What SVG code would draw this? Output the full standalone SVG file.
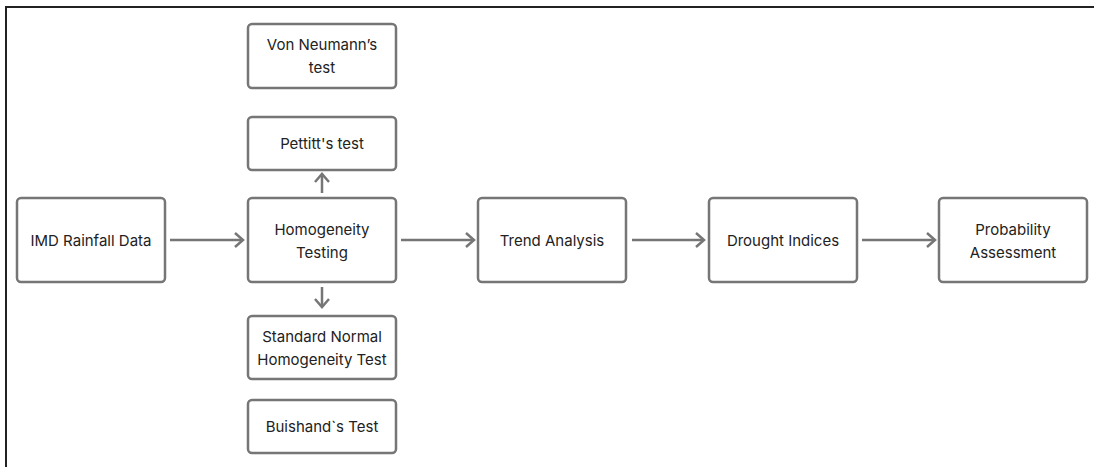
<svg xmlns="http://www.w3.org/2000/svg" width="1094" height="467" viewBox="0 0 1094 467">
<style>
.box{fill:#fff;stroke:#767676;stroke-width:2.5}
.t{font-family:Inter,"Noto Sans","Liberation Sans",sans-serif;font-size:15px;fill:#222;text-anchor:middle;dominant-baseline:central}
.c{fill:none;stroke:#767676;stroke-width:2.5}
</style>
<defs>
<marker id="ah" viewBox="0 0 12 16" refX="10" refY="8" markerWidth="12" markerHeight="16" markerUnits="userSpaceOnUse" orient="auto">
<path d="M2,1 L10,8 L2,15" fill="none" stroke="#767676" stroke-width="2.5"/>
</marker>
</defs>
<rect width="1094" height="467" fill="#fff"/>
<path d="M6,467 V7 H1094" fill="none" stroke="#222" stroke-width="2"/>
<g id="n-imd"><rect class="box" x="17" y="198" width="148" height="84" rx="4"/><text class="t" x="91" y="240">IMD Rainfall Data</text></g>
<g id="n-homog"><rect class="box" x="248" y="198" width="148" height="84" rx="4"/><text class="t" x="322" y="229">Homogeneity</text><text class="t" x="322" y="252">Testing</text></g>
<g id="n-trend"><rect class="box" x="478" y="198" width="148" height="84" rx="4"/><text class="t" x="552" y="240">Trend Analysis</text></g>
<g id="n-drought"><rect class="box" x="709" y="198" width="148" height="84" rx="4"/><text class="t" x="783" y="240">Drought Indices</text></g>
<g id="n-prob"><rect class="box" x="939" y="198" width="148" height="84" rx="4"/><text class="t" x="1013" y="229">Probability</text><text class="t" x="1013" y="252">Assessment</text></g>
<g id="n-vonneumann"><rect class="box" x="248" y="24" width="148" height="64" rx="4"/><text class="t" x="322" y="44">Von Neumann’s</text><text class="t" x="322" y="67">test</text></g>
<g id="n-pettitt"><rect class="box" x="248" y="117" width="148" height="53" rx="4"/><text class="t" x="322" y="143">Pettitt's test</text></g>
<g id="n-snht"><rect class="box" x="248" y="316" width="148" height="63" rx="4"/><text class="t" x="322" y="336">Standard Normal</text><text class="t" x="322" y="359">Homogeneity Test</text></g>
<g id="n-buishand"><rect class="box" x="248" y="400" width="148" height="53" rx="4"/><text class="t" x="322" y="426">Buishand`s Test</text></g>
<g id="connectors">
<line class="c" x1="170" y1="240" x2="243" y2="240" marker-end="url(#ah)"/>
<line class="c" x1="401" y1="240" x2="474" y2="240" marker-end="url(#ah)"/>
<line class="c" x1="632" y1="240" x2="704" y2="240" marker-end="url(#ah)"/>
<line class="c" x1="862" y1="240" x2="935" y2="240" marker-end="url(#ah)"/>
<line class="c" x1="322" y1="193" x2="322" y2="174" marker-end="url(#ah)"/>
<line class="c" x1="322" y1="287" x2="322" y2="307" marker-end="url(#ah)"/>
</g>
</svg>
